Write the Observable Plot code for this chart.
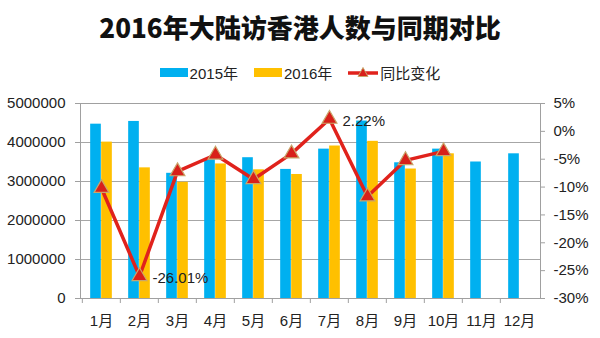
<!DOCTYPE html>
<html><head><meta charset="utf-8">
<script src="https://cdn.jsdelivr.net/npm/d3@7"></script>
<script src="https://cdn.jsdelivr.net/npm/@observablehq/plot@0.6"></script>
<style>
body{margin:0;background:#fff;width:600px;height:338px;position:relative;overflow:hidden;font-family:"Liberation Sans","Noto Sans CJK SC",sans-serif;}
#title{position:absolute;left:0;top:12px;width:600px;text-align:center;font-family:"Noto Sans CJK SC",sans-serif;font-weight:900;font-size:26px;line-height:30px;color:#111;}
#legend{position:absolute;left:0;top:62px;width:600px;height:20px;display:flex;justify-content:center;align-items:center;font-size:15px;color:#222;}
#legend .item{display:flex;align-items:center;margin:0 8px;}
#legend .sw{width:28px;height:9px;margin-right:2px;}
#chart{position:absolute;left:0;top:88px;}
</style></head>
<body>
<div id="title">2016年大陆访香港人数与同期对比</div>
<div id="legend"></div>
<div id="chart"></div>
<script>
const months = ["1月","2月","3月","4月","5月","6月","7月","8月","9月","10月","11月","12月"];
const v2015 = [4470000,4540000,3210000,3560000,3610000,3310000,3830000,4550000,3480000,3830000,3500000,3710000];
const v2016 = [4010000,3350000,2980000,3450000,3300000,3180000,3910000,4030000,3320000,3710000,null,null];
const change = [-10.2,-26.01,-7.2,-4.2,-8.6,-4.0,2.22,-11.7,-5.2,-3.6,null,null];
const leftTicks = [0,1000000,2000000,3000000,4000000,5000000];
const rightTicks = [5,0,-5,-10,-15,-20,-25,-30];
const labeled = ["2月","7月"];
const seriesNames = ["2015年","2016年","同比变化"];
const colors = ["#00b0f0","#ffc000","#e0221c"];

const yMax = 5000000, pMin = -30, pMax = 5;
const toY = p => (p - pMin) / (pMax - pMin) * yMax;
const fromY = v => Math.round(v / yMax * (pMax - pMin) + pMin);

const d15 = months.map((m,i)=>({m, v:v2015[i]}));
const d16 = months.map((m,i)=>({m, v:v2016[i]})).filter(d=>d.v!=null);
const dc = months.map((m,i)=>({m, p:change[i]})).filter(d=>d.p!=null);
const dl = dc.filter(d=>labeled.includes(d.m));

const W = 600, H = 250, mL = 80, mR = 60, mT = 15, mB = 40;
const bw = (W - mL - mR) / months.length;
const barW = 11;

const fontF = "'Liberation Sans','Noto Sans CJK SC',sans-serif";
const chart = Plot.plot({
  width: W, height: H,
  marginLeft: mL, marginRight: mR, marginTop: mT, marginBottom: mB,
  style: {fontFamily: fontF, fontSize: "15px", color: "#222", background: "#fff"},
  x: {domain: months, padding: 0},
  y: {domain: [0, yMax]},
  marks: [
    Plot.gridY(leftTicks, {stroke: "#a6a6a6", strokeOpacity: 1}),
    Plot.frame({stroke: "#a0a0a0"}),
    Plot.ruleX(months, {x: d=>d, dx: -bw/2, insetTop: H - mT - mB, insetBottom: -5, stroke: "#a0a0a0"}),
    Plot.barY(d15, {x: "m", y: "v", fill: colors[0], insetLeft: bw/2 - barW, insetRight: bw/2}),
    Plot.barY(d16, {x: "m", y: "v", fill: colors[1], insetLeft: bw/2, insetRight: bw/2 - barW}),
    Plot.line(dc, {x: "m", y: d=>toY(d.p), stroke: colors[2], strokeWidth: 3.5}),
    Plot.dot(dc, {x: "m", y: d=>toY(d.p), symbol: "triangle", r: 5.5, fill: "#d8201a", stroke: "#c9a66b", strokeWidth: 1.2}),
    Plot.text(dl, {x: "m", y: d=>toY(d.p), text: d=>d.p.toFixed(2)+"%", textAnchor: "start", dx: 13, dy: 2, fill: "#222", fontSize: 15}),
    Plot.axisY(leftTicks, {anchor: "left", tickSize: 5, tickPadding: 10, tickFormat: d3.format("d"), stroke: "#a0a0a0", fill: "#222", label: null}),
    Plot.axisY(rightTicks.map(toY), {anchor: "right", tickSize: 4, tickPadding: 9, tickFormat: v => fromY(v) + "%", stroke: "#a0a0a0", fill: "#222", label: null}),
    Plot.axisX({anchor: "bottom", tickSize: 0, tickPadding: 17, fill: "#222", label: null})
  ]
});
document.getElementById("chart").append(chart);

const lg = document.getElementById("legend");
seriesNames.forEach((name,i)=>{
  const it = document.createElement("div"); it.className="item";
  if (i < 2) {
    const sw = document.createElement("div"); sw.className="sw"; sw.style.background = colors[i]; it.append(sw);
  } else {
    const ns = "http://www.w3.org/2000/svg";
    const s = document.createElementNS(ns,"svg"); s.setAttribute("width","30"); s.setAttribute("height","12"); s.style.marginRight="2px";
    const l = document.createElementNS(ns,"line"); l.setAttribute("x1","0"); l.setAttribute("x2","30"); l.setAttribute("y1","7"); l.setAttribute("y2","7"); l.setAttribute("stroke",colors[2]); l.setAttribute("stroke-width","3.5");
    const t = document.createElementNS(ns,"path"); t.setAttribute("d","M15,1.5 L20,10.5 L10,10.5 Z"); t.setAttribute("fill","#d8201a"); t.setAttribute("stroke","#c9a66b");
    s.append(l,t); it.append(s);
  }
  const tx = document.createElement("span"); tx.textContent = name; it.append(tx);
  lg.append(it);
});
</script>
</body></html>
